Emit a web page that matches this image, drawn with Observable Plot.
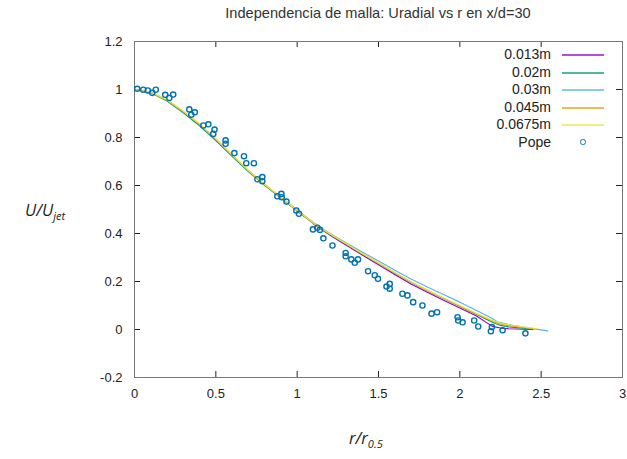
<!DOCTYPE html>
<html><head><meta charset="utf-8">
<script src="https://cdn.jsdelivr.net/npm/d3@7"></script>
<script src="https://cdn.jsdelivr.net/npm/@observablehq/plot@0.6"></script>
<style>
body{margin:0;background:#fff;}
#wrap{position:relative;width:627px;height:459px;font-family:"Liberation Sans",Arial,sans-serif;color:#222;}
#title{height:26px;padding-left:134px;padding-right:5px;text-align:center;font-size:14.6px;line-height:26px;color:#333;}
.lab{position:absolute;font-family:"Open Sans",sans-serif;font-style:italic;font-size:16.5px;white-space:nowrap;color:#222;}
.lab sub{font-size:11px;}
.leg{position:absolute;left:0;width:551px;text-align:right;font-size:14px;line-height:16px;}
.legline{position:absolute;left:562px;width:42px;height:2px;opacity:0.7;}
.legdot{position:absolute;left:580px;width:3.5px;height:3.5px;border:1.3px solid #0072b2;border-radius:50%;}
</style></head>
<body>
<div id="wrap">
  <div id="title">Independencia de malla: Uradial vs r en x/d=30</div>
  <div id="chart"></div>
  <div class="lab" style="left:25px;top:198px;">U/U<sub>jet</sub></div>
  <div class="lab" style="left:349px;top:426px;">r/r<sub>0.5</sub></div>
  <div id="legend"></div>
</div>
<script>
// Series names and colours
const seriesNames = ["0.013m", "0.02m", "0.03m", "0.045m", "0.0675m"];
const seriesColors = ["#9400d3", "#009e73", "#56b4e9", "#e69f00", "#f0e442"];
const popeName = "Pope";
const popeColor = "#0072b2";

// Axis ticks
const xTicks = [0, 0.5, 1, 1.5, 2, 2.5, 3];
const yTicks = [-0.2, 0, 0.2, 0.4, 0.6, 0.8, 1, 1.2];

// Mesh 0.013m
const r013 = [0, 0.1, 0.2, 0.3, 0.4, 0.5, 0.6, 0.7, 0.8, 0.9, 1.0, 1.1, 1.2, 1.3, 1.4, 1.5, 1.6, 1.7, 1.8, 1.9, 2.0, 2.1, 2.2, 2.25, 2.3, 2.4, 2.45];
const u013 = [1.0, 0.988, 0.955, 0.907, 0.853, 0.791, 0.725, 0.661, 0.603, 0.549, 0.495, 0.441, 0.394, 0.352, 0.31, 0.27, 0.229, 0.19, 0.155, 0.122, 0.09, 0.057, 0.013, 0.006, 0.003, 0.001, 0.0];
// Mesh 0.02m
const r020 = [0, 0.1, 0.2, 0.3, 0.4, 0.5, 0.6, 0.7, 0.8, 0.9, 1.0, 1.1, 1.2, 1.3, 1.4, 1.5, 1.6, 1.7, 1.8, 1.9, 2.0, 2.1, 2.2, 2.25, 2.3, 2.44];
const u020 = [1.0, 0.987, 0.952, 0.903, 0.849, 0.787, 0.722, 0.658, 0.601, 0.548, 0.495, 0.443, 0.397, 0.356, 0.315, 0.275, 0.235, 0.197, 0.162, 0.129, 0.097, 0.064, 0.03, 0.017, 0.011, 0.002];
// Mesh 0.03m
const r030 = [0, 0.1, 0.2, 0.3, 0.4, 0.5, 0.6, 0.7, 0.8, 0.9, 1.0, 1.1, 1.2, 1.3, 1.4, 1.5, 1.6, 1.7, 1.8, 1.9, 2.0, 2.1, 2.2, 2.23, 2.3, 2.4, 2.54];
const u030 = [1.0, 0.988, 0.955, 0.907, 0.854, 0.792, 0.726, 0.662, 0.604, 0.551, 0.498, 0.446, 0.401, 0.361, 0.323, 0.285, 0.247, 0.21, 0.177, 0.146, 0.114, 0.08, 0.046, 0.032, 0.021, 0.009, -0.006];
// Mesh 0.045m
const r045 = [0, 0.1, 0.2, 0.3, 0.4, 0.5, 0.6, 0.7, 0.8, 0.9, 1.0, 1.1, 1.2, 1.3, 1.4, 1.5, 1.6, 1.7, 1.8, 1.9, 2.0, 2.1, 2.2, 2.25, 2.3, 2.4, 2.47];
const u045 = [1.0, 0.988, 0.955, 0.908, 0.855, 0.793, 0.727, 0.662, 0.604, 0.55, 0.496, 0.443, 0.398, 0.357, 0.316, 0.276, 0.236, 0.198, 0.163, 0.13, 0.098, 0.066, 0.035, 0.022, 0.016, 0.008, 0.002];
// Mesh 0.0675m
const r0675 = [0, 0.1, 0.2, 0.3, 0.4, 0.5, 0.6, 0.7, 0.8, 0.9, 1.0, 1.1, 1.2, 1.3, 1.4, 1.5, 1.6, 1.7, 1.8, 1.9, 2.0, 2.1, 2.2, 2.25, 2.3, 2.4, 2.48];
const u0675 = [1.0, 0.989, 0.957, 0.91, 0.857, 0.795, 0.728, 0.663, 0.605, 0.551, 0.497, 0.444, 0.399, 0.358, 0.317, 0.277, 0.237, 0.199, 0.164, 0.131, 0.1, 0.068, 0.038, 0.026, 0.02, 0.01, 0.003];

// Pope experimental data
const popeR = [0.017, 0.054, 0.082, 0.109, 0.131, 0.189, 0.214, 0.238, 0.337, 0.349, 0.371, 0.423, 0.454, 0.492, 0.484, 0.56, 0.56, 0.614, 0.673, 0.687, 0.734, 0.755, 0.786, 0.786, 0.878, 0.903, 0.905, 0.934, 0.995, 1.011, 1.097, 1.124, 1.14, 1.161, 1.217, 1.298, 1.298, 1.333, 1.354, 1.374, 1.436, 1.477, 1.497, 1.549, 1.569, 1.569, 1.647, 1.678, 1.713, 1.77, 1.826, 1.86, 1.986, 1.99, 2.017, 2.088, 2.113, 2.191, 2.197, 2.263, 2.403];
const popeU = [1.003, 0.999, 0.996, 0.986, 0.999, 0.978, 0.965, 0.979, 0.917, 0.895, 0.905, 0.85, 0.855, 0.833, 0.815, 0.788, 0.774, 0.735, 0.722, 0.693, 0.693, 0.626, 0.635, 0.618, 0.555, 0.565, 0.551, 0.533, 0.496, 0.482, 0.417, 0.424, 0.415, 0.38, 0.35, 0.319, 0.305, 0.292, 0.278, 0.292, 0.243, 0.226, 0.211, 0.179, 0.19, 0.17, 0.149, 0.142, 0.114, 0.1, 0.066, 0.072, 0.051, 0.0375, 0.03, 0.0375, 0.0125, -0.007, 0.01, -0.003, -0.016];

const seriesR = [r013, r020, r030, r045, r0675];
const seriesU = [u013, u020, u030, u045, u0675];

const W = 627, H = 433, mT = 15, mB = 82, mL = 134, mR = 5;
const innerW = W - mL - mR, innerH = H - mT - mB, tk = 6;
const fmt = d => String(d);

const lineMarks = seriesR.map((rs, i) =>
  Plot.line(rs.map((v, j) => ({r: v, u: seriesU[i][j]})), {x: "r", y: "u", stroke: seriesColors[i], strokeWidth: 1.15})
);
const pope = popeR.map((v, j) => ({r: v, u: popeU[j]}));

const chart = Plot.plot({
  width: W, height: H,
  marginTop: mT, marginBottom: mB, marginLeft: mL, marginRight: mR,
  style: {fontFamily: "'Liberation Sans', Arial, sans-serif", fontSize: "13px", color: "#222", background: "#fff"},
  x: {domain: [0, 3]},
  y: {domain: [-0.2, 1.2]},
  marks: [
    Plot.axisX({ticks: xTicks, tickSize: 0, tickPadding: 11, tickFormat: fmt, label: null}),
    Plot.axisY({ticks: yTicks, tickSize: 0, tickPadding: 12, tickFormat: fmt, label: null}),
    Plot.tickX(xTicks, {x: d => d, insetTop: innerH - tk, stroke: "#222"}),
    Plot.tickX(xTicks, {x: d => d, insetBottom: innerH - tk, stroke: "#222"}),
    Plot.tickY(yTicks, {y: d => d, insetRight: innerW - tk, stroke: "#222"}),
    Plot.tickY(yTicks, {y: d => d, insetLeft: innerW - tk, stroke: "#222"}),
    Plot.frame({stroke: "#777"}),
    ...lineMarks,
    Plot.dot(pope, {x: "r", y: "u", r: 2.6, stroke: popeColor, strokeWidth: 1.4, fill: "none"})
  ]
});
document.getElementById("chart").appendChild(chart);

// Legend (top-right inside the frame)
const leg = document.getElementById("legend");
const rowY = [54, 72, 89, 107, 124, 142];
[...seriesNames, popeName].forEach((name, i) => {
  const t = document.createElement("div");
  t.className = "leg"; t.textContent = name; t.style.top = (rowY[i] - 8) + "px";
  leg.appendChild(t);
  if (i < seriesNames.length) {
    const l = document.createElement("div");
    l.className = "legline"; l.style.top = rowY[i] + "px"; l.style.background = seriesColors[i];
    leg.appendChild(l);
  } else {
    const d = document.createElement("div");
    d.className = "legdot"; d.style.top = (rowY[i] - 3) + "px"; d.style.borderColor = popeColor;
    leg.appendChild(d);
  }
});
</script>
</body></html>
